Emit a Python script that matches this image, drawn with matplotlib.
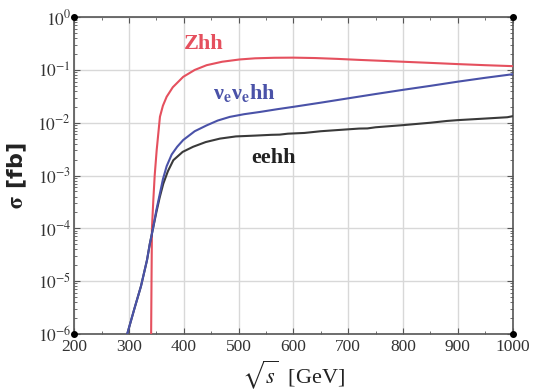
import numpy as np
import matplotlib.pyplot as plt
from matplotlib.ticker import FixedLocator, LogLocator, NullFormatter, MultipleLocator

plt.rcParams['font.family'] = ['Liberation Serif', 'DejaVu Serif']
plt.rcParams['mathtext.fontset'] = 'stix'

# sqrt(s) [GeV] and sigma [fb]
zhh_x = [340.5, 341.2, 342, 344.5, 347, 350.6, 356.6, 362, 368.8, 380, 399, 420,
         441.7, 470, 502, 530, 565, 600, 640, 680, 720, 760, 800, 850, 900,
         950, 1000]
zhh_y = [1e-6, 1e-5, 1e-4, 3.4e-4, 1e-3, 3e-3, 1.3e-2, 2.1e-2, 3.1e-2, 4.7e-2,
         7.4e-2, 0.1, 0.123, 0.143, 0.158, 0.166, 0.17, 0.171, 0.168, 0.162,
         0.155, 0.149, 0.143, 0.136, 0.129, 0.123, 0.118]

nnhh_x = [297, 310, 322, 333, 338, 344, 350, 356.6, 362, 368.8, 378, 388, 399,
          420, 441.7, 462, 484, 510, 539, 570, 600, 650, 700, 750, 800, 850,
          900, 950, 1000]
nnhh_y = [1e-6, 3e-6, 8e-6, 2.5e-5, 5e-5, 1e-4, 2.2e-4, 4.6e-4, 8.5e-4, 1.5e-3,
          2.5e-3, 3.5e-3, 4.7e-3, 6.9e-3, 8.9e-3, 1.1e-2, 1.29e-2, 1.45e-2,
          1.6e-2, 1.8e-2, 2.0e-2, 2.4e-2, 2.9e-2, 3.5e-2, 4.2e-2, 5.0e-2,
          6.0e-2, 7.1e-2, 8.3e-2]

eehh_x = [297, 310, 322, 333, 338, 344, 350, 356, 362.7, 371, 381, 398, 417, 440,
          466, 495, 530, 560, 575, 590, 620, 650, 700, 720, 735, 750, 800, 850,
          880, 900, 950, 990, 1000]
eehh_y = [1e-6, 3e-6, 8e-6, 2.5e-5, 5e-5, 1e-4, 2e-4, 3.8e-4, 7e-4, 1.2e-3,
          1.95e-3, 2.8e-3, 3.5e-3, 4.3e-3, 5.0e-3, 5.5e-3, 5.7e-3, 5.9e-3,
          5.95e-3, 6.2e-3, 6.4e-3, 6.9e-3, 7.5e-3, 7.75e-3, 7.8e-3, 8.2e-3,
          9.0e-3, 1.0e-2, 1.08e-2, 1.12e-2, 1.2e-2, 1.27e-2, 1.33e-2]

xticks = [200, 300, 400, 500, 600, 700, 800, 900, 1000]
yticks = [1e-6, 1e-5, 1e-4, 1e-3, 1e-2, 1e-1, 1e0]
ylabels = [r'$10^{%d}$' % int(np.log10(v)) for v in yticks]

fig = plt.figure(figsize=(5.33, 3.9), dpi=100)
ax = fig.add_axes([0.139, 0.144, 0.823, 0.812])

ax.plot(zhh_x, zhh_y, color='#e5505e', lw=1.5, zorder=3)
ax.plot(eehh_x, eehh_y, color='#3a3a3a', lw=1.5, zorder=4)
ax.plot(nnhh_x, nnhh_y, color='#4a52a8', lw=1.5, zorder=5)

ax.set_yscale('log')
ax.set_xlim(200, 1000)
ax.set_ylim(1e-6, 1)
ax.xaxis.set_major_locator(FixedLocator(xticks))
ax.xaxis.set_minor_locator(MultipleLocator(50))
ax.set_xticklabels([str(v) for v in xticks])
ax.yaxis.set_major_locator(FixedLocator(yticks))
ax.set_yticklabels(ylabels)
ax.yaxis.set_minor_locator(LogLocator(base=10, subs=np.arange(2, 10), numticks=20))
ax.yaxis.set_minor_formatter(NullFormatter())

ax.grid(True, which='major', color='#d8d8d8', lw=1.0)
ax.tick_params(which='both', direction='in', top=True, right=True, colors='#555555',
               labelcolor='#333333', labelsize=12.5)
ax.tick_params(which='major', length=4)
ax.tick_params(which='minor', length=2.5)
ax.tick_params(axis='x', pad=4)
ax.tick_params(axis='y', pad=2)
for s in ax.spines.values():
    s.set_color('#555555')
    s.set_linewidth(1.2)

for cx, cy in [(200, 1e-6), (200, 1), (1000, 1), (1000, 1e-6)]:
    ax.plot([cx], [cy], 'o', color='black', ms=4, clip_on=False, zorder=6)

ax.text(437, 0.31, 'Zhh', color='#e5505e', fontsize=16, fontweight='bold',
        ha='center', va='center')
ax.text(511, 0.037, 'ν$_\\mathbf{e}$ν$_\\mathbf{e}$hh', color='#4a52a8',
        fontsize=16, fontweight='bold', ha='center', va='center')
ax.text(564, 0.0021, 'eehh', color='#222222', fontsize=16, fontweight='bold',
        ha='center', va='center')

ax.set_xlabel(r'$\sqrt{s}$  [GeV]', fontsize=16, color='#222222', labelpad=2)
ax.set_ylabel(r'$\mathbf{\sigma}$ [fb]', fontsize=16, fontweight='bold',
              family=['DejaVu Sans'], color='#222222', labelpad=6)

fig.savefig('out.png', dpi=100)
